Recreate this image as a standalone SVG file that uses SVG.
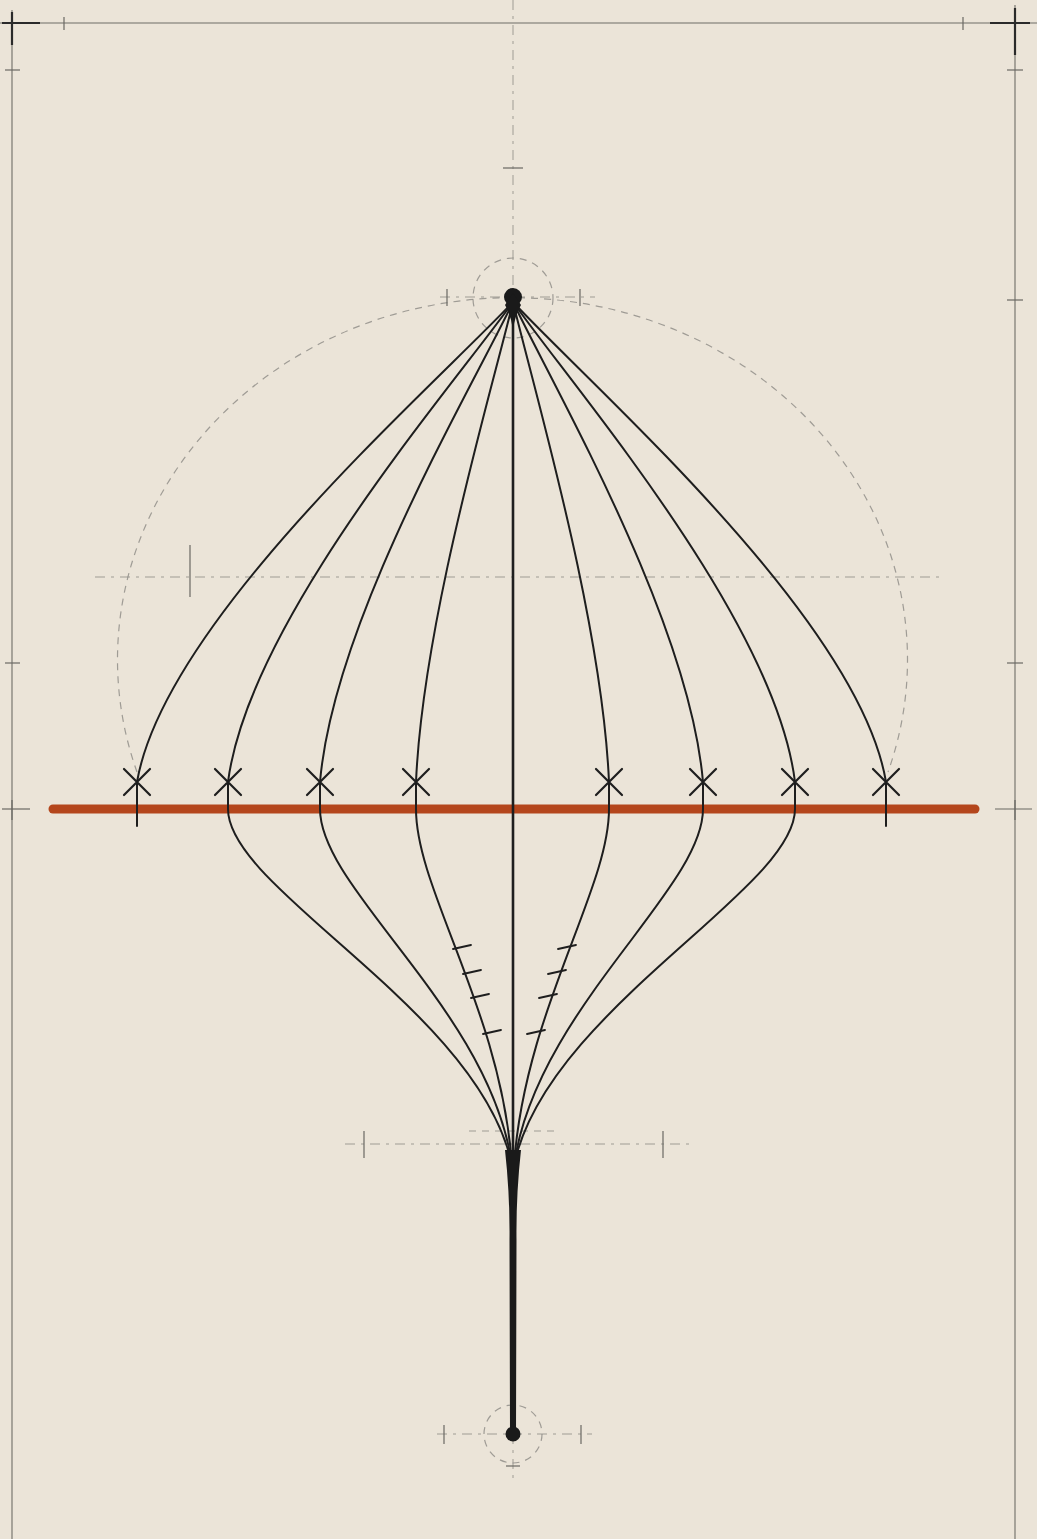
<svg xmlns="http://www.w3.org/2000/svg" width="1037" height="1539" viewBox="0 0 1037 1539">
<defs>
<style>
.bg{fill:#ebe4d8}
.guide{stroke:#8c8a84;stroke-width:1;fill:none;stroke-dasharray:10 6 3 6;opacity:.8}
.dash{stroke:#8c8a84;stroke-width:1.2;fill:none;stroke-dasharray:7 6;opacity:.8}
.frame{stroke:#6e6c67;stroke-width:1.1;fill:none}
.tick{stroke:#6a6863;stroke-width:1.2;fill:none}
.bold{stroke:#2a2a2a;stroke-width:2.2;fill:none}
.curve{stroke:#1e1e1e;stroke-width:2;fill:none;stroke-linecap:round}
.xm{stroke:#1e1e1e;stroke-width:2.2;fill:none;stroke-linecap:round}
.tk{stroke:#1e1e1e;stroke-width:1.8;fill:none;stroke-linecap:round}
.bar{stroke:#b4461c;stroke-width:9;stroke-linecap:round;fill:none}
.dot{fill:#1a1a1a}
</style>
</defs>
<rect class="bg" x="0" y="0" width="1037" height="1539"/>

<g id="frame">
<line class="frame" x1="0" y1="23" x2="1037" y2="23"/>
<line class="frame" x1="12" y1="10" x2="12" y2="1539"/>
<line class="frame" x1="1015" y1="5" x2="1015" y2="1539"/>
<line class="bold" x1="2" y1="23" x2="40" y2="23"/>
<line class="bold" x1="12" y1="12" x2="12" y2="45"/>
<line class="bold" x1="990" y1="23" x2="1030" y2="23"/>
<line class="bold" x1="1015" y1="8" x2="1015" y2="55"/>
<line class="tick" x1="64" y1="17" x2="64" y2="30"/>
<line class="tick" x1="963" y1="17" x2="963" y2="30"/>
<line class="tick" x1="5" y1="70" x2="20" y2="70"/>
<line class="tick" x1="1007" y1="70" x2="1023" y2="70"/>
<line class="tick" x1="1007" y1="300" x2="1023" y2="300"/>
<line class="tick" x1="5" y1="663" x2="20" y2="663"/>
<line class="tick" x1="1007" y1="663" x2="1023" y2="663"/>
<line class="tick" x1="2" y1="809" x2="30" y2="809"/>
<line class="tick" x1="12" y1="800" x2="12" y2="820"/>
<line class="tick" x1="995" y1="809" x2="1032" y2="809"/>
<line class="tick" x1="1015" y1="800" x2="1015" y2="820"/>
</g>

<g id="guides">
<line class="guide" x1="513" y1="0" x2="513" y2="290"/>
<line class="tick" x1="503" y1="168" x2="523" y2="168"/>
<path class="dash" d="M137,772 A395,362 0 1 1 888,772"/>
<line class="guide" x1="95" y1="577" x2="940" y2="577"/>
<line class="tick" x1="190" y1="545" x2="190" y2="597"/>
<line class="guide" x1="345" y1="1144" x2="690" y2="1144"/>
<line class="tick" x1="364" y1="1131" x2="364" y2="1158"/>
<line class="tick" x1="663" y1="1131" x2="663" y2="1158"/>
<line class="dash" x1="469" y1="1131" x2="557" y2="1131"/>
</g>

<g id="node-top">
<circle class="dash" cx="513" cy="298" r="40"/>
<line class="guide" x1="440" y1="297" x2="595" y2="297"/>
<line class="tick" x1="447" y1="289" x2="447" y2="306"/>
<line class="tick" x1="580" y1="289" x2="580" y2="306"/>
<circle class="dot" cx="513" cy="297" r="9"/>
</g>

<g id="node-bottom">
<circle class="dash" cx="513" cy="1434" r="29"/>
<line class="guide" x1="437" y1="1434" x2="592" y2="1434"/>
<line class="tick" x1="444" y1="1425" x2="444" y2="1444"/>
<line class="tick" x1="581" y1="1425" x2="581" y2="1444"/>
<line class="guide" x1="513" y1="1434" x2="513" y2="1480"/>
<line class="tick" x1="506" y1="1466" x2="520" y2="1466"/>
</g>

<g id="bar">
<line class="bar" x1="53" y1="809" x2="975" y2="809"/>
</g>

<g id="connectors">
<path class="curve" d="M513,302 C430,390 165,620 137,782 L137,826"/>
<path class="curve" d="M513,302 C450,390 249,620 228,782 L228,809 C228,890 479,1010 512,1165"/>
<path class="curve" d="M513,302 C471,390 334,620 320,782 L320,809 C320,890 490,1010 512,1165"/>
<path class="curve" d="M513,302 C492,390 423,620 416,782 L416,809 C416,890 501,1010 512,1165"/>
<line class="curve" x1="513" y1="300" x2="513" y2="1434" style="stroke-width:2.6"/>
<path class="curve" d="M513,302 C534,390 602,620 609,782 L609,809 C609,890 525,1010 514,1165"/>
<path class="curve" d="M513,302 C555,390 689,620 703,782 L703,809 C703,890 536,1010 514,1165"/>
<path class="curve" d="M513,302 C575,390 775,620 795,782 L795,809 C795,890 547,1010 514,1165"/>
<path class="curve" d="M513,302 C595,390 859,620 886,782 L886,826"/>
<path class="dot" d="M505,1150 Q510,1195 509.5,1240 L510,1434 L516,1434 L516.5,1240 Q516,1195 521,1150 Z"/>
<path class="dot" d="M505,305 L513,293 L521,305 Q515,315 513,330 Q511,315 505,305 Z"/>
<circle class="dot" cx="513" cy="1434" r="7.5"/>
</g>

<g id="marks">
<path class="xm" d="M124,769 L150,795 M150,769 L124,795"/>
<path class="xm" d="M215,769 L241,795 M241,769 L215,795"/>
<path class="xm" d="M307,769 L333,795 M333,769 L307,795"/>
<path class="xm" d="M403,769 L429,795 M429,769 L403,795"/>
<path class="xm" d="M596,769 L622,795 M622,769 L596,795"/>
<path class="xm" d="M690,769 L716,795 M716,769 L690,795"/>
<path class="xm" d="M782,769 L808,795 M808,769 L782,795"/>
<path class="xm" d="M873,769 L899,795 M899,769 L873,795"/>
<path class="tk" d="M453,949 L471,945 M463,974 L481,970 M471,998 L489,994 M483,1034 L501,1030"/>
<path class="tk" d="M558,949 L576,945 M548,974 L566,970 M539,998 L557,994 M527,1034 L545,1030"/>
</g>
</svg>
